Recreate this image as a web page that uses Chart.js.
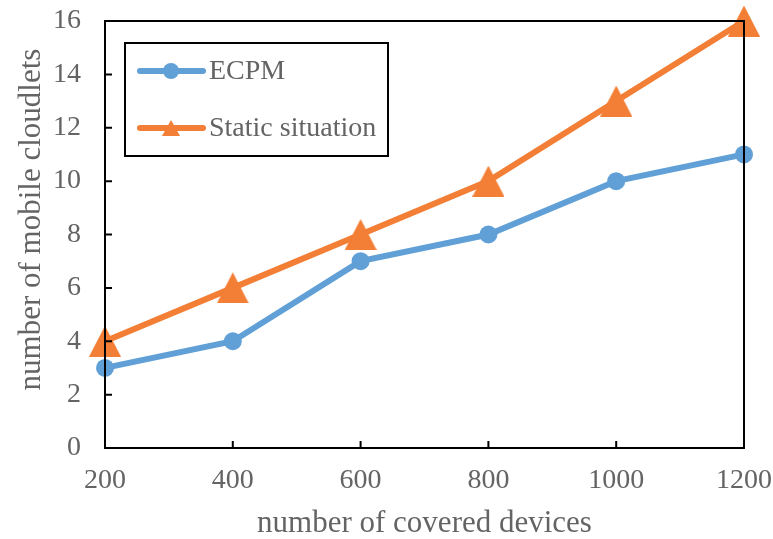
<!DOCTYPE html>
<html>
<head>
<meta charset="utf-8">
<script src="https://cdn.jsdelivr.net/npm/chart.js@4.4.1/dist/chart.umd.min.js"></script>
<style>
  html, body { margin: 0; padding: 0; background: #fff; }
  #wrap { width: 773px; height: 539px; }
</style>
</head>
<body>
<div id="wrap"><canvas id="myChart" width="773" height="539"></canvas></div>
<script>
const devices = ['200', '400', '600', '800', '1000', '1200'];
const ecpm = [3, 4, 7, 8, 10, 11];
const staticSituation = [4, 6, 8, 10, 13, 16];
const seriesNames = ['ECPM', 'Static situation'];
const yTitle = 'number of mobile cloudlets';
const xTitle = 'number of covered devices';

const blue = '#60A0D6';
const orange = '#F37E35';
const grey = '#646464';
const serif = "'Liberation Serif', 'Times New Roman', serif";

// Excel-style triangle marker, centred on its bounding box
function triangleMarker(w, h, color) {
  const c = document.createElement('canvas');
  c.width = w;
  c.height = h;
  const g = c.getContext('2d');
  g.fillStyle = color;
  g.beginPath();
  g.moveTo(w / 2, 0);
  g.lineTo(w, h);
  g.lineTo(0, h);
  g.closePath();
  g.fill();
  return c;
}
const bigTriangle = triangleMarker(32, 31, orange);
const smallTriangle = triangleMarker(18, 16, orange);

// frame + inward tick marks + y title (sits a bit above centre in the original)
const framePlugin = {
  id: 'frame',
  afterDraw(chart) {
    const { ctx, chartArea: a, scales } = chart;
    ctx.save();
    ctx.strokeStyle = '#000';
    ctx.lineWidth = 2;
    ctx.beginPath();
    scales.x.ticks.forEach((t, i) => {
      const px = scales.x.getPixelForTick(i);
      ctx.moveTo(px, a.bottom);
      ctx.lineTo(px, a.bottom - 7);
    });
    scales.y.ticks.forEach((t, i) => {
      const py = scales.y.getPixelForTick(i);
      ctx.moveTo(a.left, py);
      ctx.lineTo(a.left + 7, py);
    });
    ctx.stroke();
    ctx.strokeRect(a.left, a.top, a.right - a.left, a.bottom - a.top);

    ctx.translate(32, (a.top + a.bottom) / 2 - 15);
    ctx.rotate(-Math.PI / 2);
    ctx.fillStyle = grey;
    ctx.font = '31px ' + serif;
    ctx.textAlign = 'center';
    ctx.textBaseline = 'middle';
    ctx.fillText(yTitle, 0, 0);
    ctx.restore();
  }
};

// legend box inside the plot, like the original
const legendPlugin = {
  id: 'boxLegend',
  afterDraw(chart) {
    const ctx = chart.ctx;
    ctx.save();
    ctx.fillStyle = '#fff';
    ctx.fillRect(125, 43, 263, 113);
    ctx.strokeStyle = '#000';
    ctx.lineWidth = 2;
    ctx.strokeRect(125, 43, 263, 113);
    const rows = [71, 128];
    chart.data.datasets.forEach((ds, i) => {
      const y = rows[i];
      ctx.strokeStyle = ds.borderColor;
      ctx.lineWidth = 6;
      ctx.lineCap = 'round';
      ctx.beginPath();
      ctx.moveTo(140, y);
      ctx.lineTo(203, y);
      ctx.stroke();
      ctx.fillStyle = ds.borderColor;
      if (i === 1) {
        ctx.drawImage(smallTriangle, 171 - 9, y - 8);
      } else {
        ctx.beginPath();
        ctx.arc(171, y, 8, 0, Math.PI * 2);
        ctx.fill();
      }
      ctx.fillStyle = grey;
      ctx.font = '28px ' + serif;
      ctx.textBaseline = 'middle';
      ctx.fillText(seriesNames[i], 209, y + 1);
    });
    ctx.restore();
  }
};

new Chart(document.getElementById('myChart').getContext('2d'), {
  type: 'line',
  data: {
    labels: devices,
    datasets: [{
      label: seriesNames[0],
      data: ecpm,
      borderColor: blue,
      backgroundColor: blue,
      borderWidth: 6,
      pointStyle: 'circle',
      pointRadius: 9,
      pointBorderWidth: 0,
      pointBackgroundColor: blue,
      clip: false
    },
    {
      label: seriesNames[1],
      data: staticSituation,
      borderColor: orange,
      backgroundColor: orange,
      borderWidth: 6,
      pointStyle: bigTriangle,
      pointRadius: 16,
      pointBorderWidth: 0,
      pointBackgroundColor: orange,
      clip: false
    }]
  },
  options: {
    responsive: false,
    animation: false,
    layout: { padding: { top: 21, right: 29, left: 0, bottom: 0 } },
    plugins: {
      legend: { display: false },
      tooltip: { enabled: false }
    },
    scales: {
      x: {
        offset: false,
        grid: { display: false, drawTicks: false },
        border: { display: false },
        ticks: { color: grey, padding: 16, font: { family: serif, size: 28 }, maxRotation: 0 },
        title: {
          display: true,
          text: xTitle,
          color: grey,
          font: { family: serif, size: 31, lineHeight: 1 },
          padding: { top: 0, bottom: 0 }
        },
        afterFit(scale) {
          scale.height = 91;
          scale.paddingLeft = 0;
          scale.paddingRight = 0;
        }
      },
      y: {
        min: 0,
        max: 16,
        grid: { display: false, drawTicks: false },
        border: { display: false },
        ticks: { stepSize: 2, color: grey, padding: 24, font: { family: serif, size: 28 } },
        afterFit(scale) {
          scale.width = 105;
          scale.paddingTop = 0;
          scale.paddingBottom = 0;
        }
      }
    }
  },
  plugins: [framePlugin, legendPlugin]
});
</script>
</body>
</html>
